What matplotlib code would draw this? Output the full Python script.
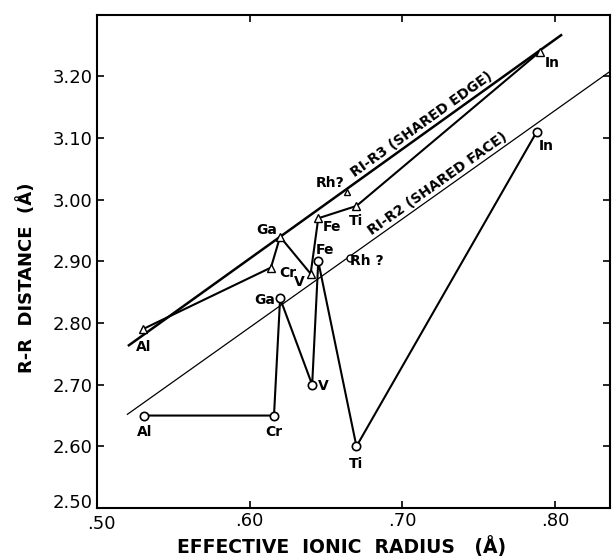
import numpy as np
import matplotlib
matplotlib.use("Agg")
import matplotlib.pyplot as plt
import matplotlib.transforms as mtransforms

# ---- data ----
tri_labels = ['Al', 'Cr', 'Ga', 'V', 'Fe', 'Ti', 'In']
tri_x = [0.530, 0.614, 0.620, 0.640, 0.645, 0.670, 0.790]
tri_y = [2.79, 2.89, 2.94, 2.88, 2.97, 2.99, 3.24]
tri_rh_x = [0.664]
tri_rh_y = [3.013]

circ_labels = ['Al', 'Cr', 'Ga', 'V', 'Fe', 'Ti', 'In']
circ_x = [0.531, 0.616, 0.620, 0.641, 0.645, 0.670, 0.788]
circ_y = [2.65, 2.65, 2.84, 2.70, 2.90, 2.60, 3.11]
circ_rh_x = [0.666]
circ_rh_y = [2.905]

edge_x = [0.521, 0.804]
edge_y = [2.764, 3.267]
face_x = [0.520, 0.845]
face_y = [2.652, 3.224]

x_ticks = [0.50, 0.60, 0.70, 0.80]
x_ticklabels = ['.50', '.60', '.70', '.80']
y_ticks = [2.50, 2.60, 2.70, 2.80, 2.90, 3.00, 3.10, 3.20]
y_ticklabels = ['2.50', '2.60', '2.70', '2.80', '2.90', '3.00', '3.10', '3.20']

# label offsets (points)
tri_offsets = [(1, -13), (12, -4), (-10, 5), (-8, -6), (10, -6), (0, -11), (9, -8)]
circ_offsets = [(0, -12), (0, -12), (-11, -1), (8, -1), (5, 8), (0, -13), (7, -10)]

plt.rcParams['font.family'] = ['DejaVu Sans']

fig = plt.figure(figsize=(6.13, 5.56), dpi=100)
ax = fig.add_axes([0.158, 0.0863, 0.837, 0.887])
ax.set_xlim(0.50, 0.836)
ax.set_ylim(2.50, 3.30)

# regression lines
ax.plot(edge_x, edge_y, color='black', lw=1.8)
ax.plot(face_x, face_y, color='black', lw=0.9)

# data paths
ax.plot(tri_x, tri_y, color='black', lw=1.5, marker='^', ms=6,
        mfc='white', mec='black', mew=1.0)
ax.plot(tri_rh_x, tri_rh_y, ls='none', marker='^', ms=5,
        mfc='white', mec='black', mew=1.0)
ax.plot(circ_x, circ_y, color='black', lw=1.5, marker='o', ms=6,
        mfc='white', mec='black', mew=1.2)
ax.plot(circ_rh_x, circ_rh_y, ls='none', marker='o', ms=5,
        mfc='white', mec='black', mew=1.0)

lab_kw = dict(textcoords='offset points', ha='center', va='center',
              fontsize=10, fontweight='bold')
for lab, x, y, off in zip(tri_labels, tri_x, tri_y, tri_offsets):
    ax.annotate(lab, (x, y), xytext=off, **lab_kw)
ax.annotate('Rh?', (tri_rh_x[0], tri_rh_y[0]), xytext=(-12, 6), **lab_kw)
for lab, x, y, off in zip(circ_labels, circ_x, circ_y, circ_offsets):
    ax.annotate(lab, (x, y), xytext=off, **lab_kw)
ax.annotate('Rh ?', (circ_rh_x[0], circ_rh_y[0]), xytext=(12, -2), **lab_kw)

# line labels, rotated along lines
def line_y(xs, ys, x):
    return ys[0] + (ys[1] - ys[0]) / (xs[1] - xs[0]) * (x - xs[0])

edge_ang = np.degrees(np.arctan((edge_y[1] - edge_y[0]) / (edge_x[1] - edge_x[0])))
face_ang = np.degrees(np.arctan((face_y[1] - face_y[0]) / (face_x[1] - face_x[0])))
tx = 0.670
ax.text(tx, line_y(edge_x, edge_y, tx) + 0.003, 'RI-R3 (SHARED EDGE)', rotation=edge_ang,
        transform_rotates_text=True, rotation_mode='anchor', ha='left', va='bottom',
        fontsize=10, fontweight='bold')
tx = 0.681
ax.text(tx, line_y(face_x, face_y, tx) + 0.003, 'RI-R2 (SHARED FACE)', rotation=face_ang,
        transform_rotates_text=True, rotation_mode='anchor', ha='left', va='bottom',
        fontsize=10, fontweight='bold')

ax.set_xticks(x_ticks)
ax.set_xticklabels(x_ticklabels)
ax.set_yticks(y_ticks)
ax.set_yticklabels(y_ticklabels)
ax.tick_params(direction='in', length=5, width=1.2, top=True, right=True,
               labelsize=13, pad=3)
for sp in ax.spines.values():
    sp.set_linewidth(1.5)

# nudge the corner labels apart, as in the reference
ylab0 = ax.get_yticklabels()[0]
ylab0.set_transform(ylab0.get_transform() +
                    mtransforms.ScaledTranslation(0, 5 / 72, fig.dpi_scale_trans))
xlab0 = ax.get_xticklabels()[0]
xlab0.set_transform(xlab0.get_transform() +
                    mtransforms.ScaledTranslation(3 / 72, -2 / 72, fig.dpi_scale_trans))

ax.set_xlabel('EFFECTIVE  IONIC  RADIUS   (Å)', fontsize=13.5, fontweight='bold')
ax.xaxis.set_label_coords(0.476, -0.078)
ax.xaxis.label.set_va('center')
ax.set_ylabel('R-R  DISTANCE  (Å)', fontsize=13, fontweight='bold')
ax.yaxis.set_label_coords(-0.138, 0.467)
ax.yaxis.label.set_va('center')

fig.savefig('out.png', dpi=100)
